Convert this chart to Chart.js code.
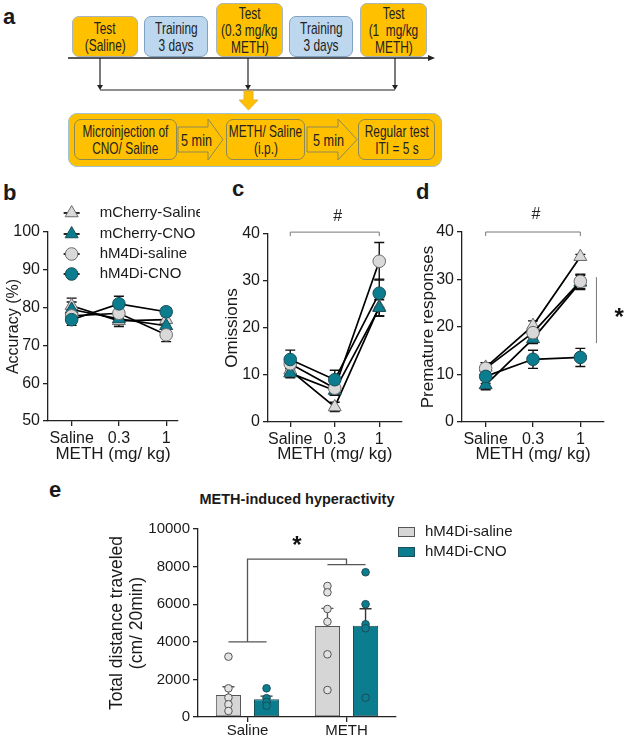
<!DOCTYPE html>
<html>
<head>
<meta charset="utf-8">
<script src="https://cdn.jsdelivr.net/npm/chart.js@4.4.1/dist/chart.umd.min.js"></script>
<style>
html, body { margin: 0; padding: 0; background: #fff; }
#page { position: relative; width: 627px; height: 740px; overflow: hidden; font-family: "Liberation Sans", Arial, sans-serif; color: #1a1a1a; }
canvas { position: absolute; }
.letter { position: absolute; font-weight: bold; font-size: 22px; line-height: 22px; }
.box { position: absolute; box-sizing: border-box; border-radius: 7px; display: flex; flex-direction: column; align-items: center; justify-content: center; text-align: center;
       font-size: 17px; line-height: 17px; color: #222; }
.box span { display: block; white-space: nowrap; transform: scaleX(0.7); }
.orange { background: #ffc000; border: 1px solid #a9b5b8; }
.blue { background: #bdd7ee; border: 1px solid #7ea3c4; }
.inner { background: #ffc000; border: 1px solid #8d8a55; }
.big { background: #ffc000; border: 1.5px solid #9fc3d3; border-radius: 9px; }
#scheme { position: absolute; left: 0; top: 0; }
#titleE { position: absolute; left: 187px; top: 491px; width: 220px; text-align: center; font-weight: bold; font-size: 14.5px; }
</style>
</head>
<body>
<div id="page">
  <!-- panel a: protocol scheme -->
  <div class="letter" style="left:3px;top:6px;">a</div>
  <div class="box orange" style="left:72px;top:16px;width:66px;height:41px;"><span>Test</span><span>(Saline)</span></div>
  <div class="box blue" style="left:144px;top:16px;width:64px;height:41px;"><span>Training</span><span>3 days</span></div>
  <div class="box orange" style="left:216px;top:3px;width:67px;height:54px;"><span>Test</span><span>(0.3 mg/kg</span><span>METH)</span></div>
  <div class="box blue" style="left:289px;top:16px;width:64px;height:41px;"><span>Training</span><span>3 days</span></div>
  <div class="box orange" style="left:360px;top:3px;width:67px;height:54px;"><span>Test</span><span>(1&nbsp; mg/kg</span><span>METH)</span></div>
  <div class="box big" style="left:68px;top:113px;width:374px;height:54px;"></div>
  <svg id="scheme" width="627" height="170">
    <line x1="68" y1="58" x2="429" y2="58" stroke="#222" stroke-width="1.5"/>
    <polygon points="428,55 435,58 428,61" fill="#222"/>
    <line x1="100" y1="58" x2="100" y2="86" stroke="#222" stroke-width="1.2"/>
    <line x1="248" y1="58" x2="248" y2="86" stroke="#222" stroke-width="1.2"/>
    <line x1="395" y1="58" x2="395" y2="86" stroke="#222" stroke-width="1.2"/>
    <polygon points="97,85 103,85 100,90" fill="#222"/>
    <polygon points="245,85 251,85 248,90" fill="#222"/>
    <polygon points="392,85 398,85 395,90" fill="#222"/>
    <line x1="100" y1="90" x2="395" y2="90" stroke="#222" stroke-width="1.2"/>
    <polygon points="244,91 253,91 253,100 258,100 248.5,110 239,100 244,100" fill="#ffc000" stroke="#e3b23c" stroke-width="1"/>
    <polygon points="178,127 208,127 208,119 223,139.5 208,160 208,152 178,152" fill="#ffc000" stroke="#8d8a55" stroke-width="1"/>
    <polygon points="307,127 338,127 338,119 357,139.5 338,160 338,152 307,152" fill="#ffc000" stroke="#8d8a55" stroke-width="1"/>
    <text x="181" y="146" textLength="31" lengthAdjust="spacingAndGlyphs" font-family="Liberation Sans, Arial, sans-serif" font-size="17" fill="#222">5 min</text>
    <text x="313" y="146" textLength="31" lengthAdjust="spacingAndGlyphs" font-family="Liberation Sans, Arial, sans-serif" font-size="17" fill="#222">5 min</text>
  </svg>
  <div class="box inner" style="left:74px;top:119px;width:103px;height:41px;"><span>Microinjection of</span><span>CNO/ Saline</span></div>
  <div class="box inner" style="left:226px;top:119px;width:79px;height:41px;"><span>METH/ Saline</span><span>(i.p.)</span></div>
  <div class="box inner" style="left:358px;top:119px;width:77px;height:41px;"><span>Regular test</span><span>ITI = 5 s</span></div>

  <!-- panels b-d -->
  <div class="letter" style="left:3px;top:182px;">b</div>
  <div class="letter" style="left:232px;top:178px;">c</div>
  <div class="letter" style="left:416px;top:181px;">d</div>
  <canvas id="chartB" width="200" height="300" style="left:0;top:170px;"></canvas>
  <canvas id="chartC" width="210" height="300" style="left:200px;top:170px;"></canvas>
  <canvas id="chartD" width="227" height="300" style="left:400px;top:170px;"></canvas>

  <!-- panel e -->
  <div class="letter" style="left:49px;top:479px;">e</div>
  <div id="titleE">METH-induced hyperactivity</div>
  <canvas id="chartE" width="627" height="270" style="left:0;top:470px;"></canvas>
</div>

<script>
// x categories and group names
const doseLabels = ['Saline', '0.3', '1'];
const groupLabels = ['mCherry-Saline', 'mCherry-CNO', 'hM4Di-saline', 'hM4Di-CNO'];
const doseTitle = 'METH (mg/ kg)';

// b: accuracy (%), mean and sem per group
const accMCherrySaline = [80.5, 76.5, 76.8];
const accMCherryCNO = [79.5, 77.0, 75.2];
const accHM4DiSaline = [77.8, 78.5, 72.8];
const accHM4DiCNO = [76.8, 81.0, 78.9];
const accMCherrySalineSem = [2.0, 1.5, 1.0];
const accMCherryCNOSem = [2.0, 1.5, 1.0];
const accHM4DiSalineSem = [1.5, 1.5, 1.8];
const accHM4DiCNOSem = [1.5, 2.0, 1.0];

// c: omissions
const omMCherrySaline = [11.0, 3.2, 24.5];
const omMCherryCNO = [10.4, 6.7, 24.3];
const omHM4DiSaline = [12.4, 7.2, 34.2];
const omHM4DiCNO = [13.3, 9.0, 27.4];
const omMCherrySalineSem = [1.0, 1.0, 2.0];
const omMCherryCNOSem = [1.0, 1.0, 1.7];
const omHM4DiSalineSem = [1.5, 1.5, 4.0];
const omHM4DiCNOSem = [2.0, 2.0, 3.0];

// d: premature responses
const prMCherrySaline = [11.5, 20.3, 34.8];
const prMCherryCNO = [7.8, 17.5, 29.4];
const prHM4DiSaline = [11.3, 18.8, 29.6];
const prHM4DiCNO = [9.6, 13.2, 13.6];
const prMCherrySalineSem = [1.0, 1.0, 0.5];
const prMCherryCNOSem = [1.0, 1.0, 1.5];
const prHM4DiSalineSem = [1.2, 1.0, 1.5];
const prHM4DiCNOSem = [1.5, 1.9, 1.9];

// annotation levels (data units)
const omBracket = 40.4, omHash = 43.8;
const prBracket = 40.0, prHash = 43.6;
const prStarSpan = [30.5, 16.6];

// e: total distance traveled
const distGroups = ['Saline', 'METH'];
const distSeries = ['hM4Di-saline', 'hM4Di-CNO'];
const distSalineMean = [1170, 4840];
const distSalineSem = [440, 940];
const distCNOMean = [940, 4860];
const distCNOSem = [170, 900];
const distSalineDotsSal = [3210, 1525, 1030, 675, 320];
const distSalineDotsMeth = [6970, 6630, 5745, 5070, 3335, 1435];
const distCNODotsSal = [1525, 1000, 800, 600];
const distCNODotsMeth = [7700, 6000, 4930, 4720, 1030];
const distBrackets = [4000, 8100, 8400];

// styles
const GRAY = '#d9d9d9', GRAY_EDGE = '#6a6a6a';
const TEAL = '#0b7d8f', TEAL_EDGE = '#1b4d57';
const TXT = '#1a1a1a', AXIS = '#222';
const groupShapes = ['triangle', 'triangle', 'circle', 'circle'];
const groupFill = [GRAY, TEAL, GRAY, TEAL];
const groupEdge = [GRAY_EDGE, TEAL_EDGE, GRAY_EDGE, TEAL_EDGE];
const drawOrder = [4, 3, 2, 1];
const FONT = 'Liberation Sans, Arial, sans-serif';
const tickFont = { family: FONT, size: 16 };
const titleFont = { family: FONT, size: 17 };

// error bars from the dataset's own sem array
const errorBars = {
  id: 'errorBars',
  beforeDatasetsDraw(chart) {
    const ctx = chart.ctx, ys = chart.scales.y;
    chart.data.datasets.forEach((ds, i) => {
      if (!ds.sem) return;
      chart.getDatasetMeta(i).data.forEach((el, j) => {
        const raw = ds.data[j];
        const m = typeof raw === 'object' ? raw.y : raw;
        const top = ys.getPixelForValue(m + ds.sem[j]);
        const bot = ys.getPixelForValue(ds.upOnly ? m : m - ds.sem[j]);
        const w = ds.capWidth || 5;
        ctx.save();
        ctx.strokeStyle = ds.errColor || '#111';
        ctx.lineWidth = 1.4;
        ctx.beginPath();
        ctx.moveTo(el.x, top); ctx.lineTo(el.x, bot);
        ctx.moveTo(el.x - w, top); ctx.lineTo(el.x + w, top);
        if (!ds.upOnly) { ctx.moveTo(el.x - w, bot); ctx.lineTo(el.x + w, bot); }
        ctx.stroke();
        ctx.restore();
      });
    });
  }
};

function hashBracket(level, hashAt) {
  return {
    id: 'hashBracket',
    afterDraw(chart) {
      const ctx = chart.ctx, xs = chart.scales.x, ys = chart.scales.y;
      const x0 = xs.getPixelForValue(0), x1 = xs.getPixelForValue(2);
      const y = ys.getPixelForValue(level);
      ctx.save();
      ctx.strokeStyle = '#777';
      ctx.lineWidth = 1;
      ctx.beginPath();
      ctx.moveTo(x0, y + 4); ctx.lineTo(x0, y); ctx.lineTo(x1, y); ctx.lineTo(x1, y + 4);
      ctx.stroke();
      ctx.fillStyle = '#222';
      ctx.font = '16px ' + FONT;
      ctx.textAlign = 'center';
      ctx.textBaseline = 'middle';
      ctx.fillText('#', (x0 + x1) / 2 + 3, ys.getPixelForValue(hashAt));
      ctx.restore();
    }
  };
}

function makeLineChart(id, means, sems, yMin, yMax, yTitle, box, extra) {
  const datasets = means.map((vals, i) => ({
    label: groupLabels[i],
    data: vals.map((v, j) => ({ x: j, y: v })),
    sem: sems[i],
    borderColor: '#000',
    borderWidth: 1.7,
    pointStyle: groupShapes[i],
    pointRadius: groupShapes[i] === 'triangle' ? 7.5 : 6.3,
    pointBackgroundColor: groupFill[i],
    pointBorderColor: groupEdge[i],
    pointBorderWidth: 1,
    order: drawOrder[i],
    tension: 0,
    fill: false
  }));
  return new Chart(document.getElementById(id), {
    type: 'line',
    data: { datasets },
    options: {
      responsive: false,
      animation: false,
      layout: { padding: { left: box.left, top: box.top, right: box.right, bottom: box.bottom } },
      plugins: { legend: { display: false }, tooltip: { enabled: false } },
      scales: {
        x: {
          type: 'linear', min: -0.5, max: box.xMax,
          afterBuildTicks: s => { s.ticks = doseLabels.map((_, i) => ({ value: i })); },
          afterFit: s => { s.height = box.xH; },
          ticks: { callback: v => doseLabels[v], font: tickFont, color: TXT, autoSkip: false, maxRotation: 0, padding: 3 },
          grid: { drawOnChartArea: false, drawTicks: true, tickLength: 5, color: AXIS, lineWidth: 1.3 },
          border: { display: true, color: AXIS, width: 1.3 },
          title: { display: true, text: doseTitle, font: titleFont, color: TXT, padding: 0 }
        },
        y: {
          min: yMin, max: yMax,
          afterFit: s => { s.width = box.yW; },
          ticks: { stepSize: 10, callback: v => String(v), font: tickFont, color: TXT, padding: 3 },
          grid: { drawOnChartArea: false, drawTicks: true, tickLength: 5, color: AXIS, lineWidth: 1.3 },
          border: { display: true, color: AXIS, width: 1.3 },
          title: { display: true, text: yTitle, font: { family: FONT, size: box.yTitleSize }, color: TXT, padding: { top: 4, bottom: 0 } }
        }
      }
    },
    plugins: [errorBars].concat(extra || [])
  });
}

// legend for panel b, drawn with the datasets' own point styles
const legendB = {
  id: 'legendB',
  afterDraw(chart) {
    const ctx = chart.ctx;
    const mx = chart.scales.x.getPixelForValue(0);
    const rows = [-19, 2, 22, 42];
    chart.data.datasets.forEach((ds, i) => {
      const y = chart.chartArea.top + rows[i];
      ctx.save();
      ctx.strokeStyle = '#000';
      ctx.lineWidth = 1.7;
      ctx.beginPath(); ctx.moveTo(mx - 8, y); ctx.lineTo(mx + 8, y); ctx.stroke();
      ctx.fillStyle = ds.pointBackgroundColor;
      ctx.strokeStyle = ds.pointBorderColor;
      ctx.lineWidth = 1;
      Chart.helpers.drawPoint(ctx, { pointStyle: ds.pointStyle, radius: ds.pointRadius, rotation: 0, borderWidth: 1 }, mx, y);
      ctx.fillStyle = TXT;
      ctx.font = '15px ' + FONT;
      ctx.textAlign = 'left';
      ctx.textBaseline = 'middle';
      ctx.fillText(ds.label, mx + 28, y);
      ctx.restore();
    });
  }
};

makeLineChart('chartB',
  [accMCherrySaline, accMCherryCNO, accHM4DiSaline, accHM4DiCNO],
  [accMCherrySalineSem, accMCherryCNOSem, accHM4DiSalineSem, accHM4DiCNOSem],
  50, 100, 'Accuracy (%)',
  { left: 0, yW: 48, top: 62, right: 22, bottom: 5, xH: 44, xMax: 2.25, yTitleSize: 16 },
  [legendB]);

makeLineChart('chartC',
  [omMCherrySaline, omMCherryCNO, omHM4DiSaline, omHM4DiCNO],
  [omMCherrySalineSem, omMCherryCNOSem, omHM4DiSalineSem, omHM4DiCNOSem],
  0, 40, 'Omissions',
  { left: 18, yW: 50, top: 64, right: 0, bottom: 5, xH: 43, xMax: 2.5, yTitleSize: 17 },
  [hashBracket(omBracket, omHash)]);

const starD = {
  id: 'starD',
  afterDraw(chart) {
    const ctx = chart.ctx, xs = chart.scales.x, ys = chart.scales.y;
    const x = xs.getPixelForValue(2.34);
    ctx.save();
    ctx.strokeStyle = '#777';
    ctx.lineWidth = 1;
    ctx.beginPath();
    ctx.moveTo(x, ys.getPixelForValue(prStarSpan[0]));
    ctx.lineTo(x, ys.getPixelForValue(prStarSpan[1]));
    ctx.stroke();
    ctx.fillStyle = '#111';
    ctx.font = 'bold 24px ' + FONT;
    ctx.textAlign = 'center';
    ctx.textBaseline = 'middle';
    ctx.fillText('*', xs.getPixelForValue(2.82), ys.getPixelForValue(21.8));
    ctx.restore();
  }
};

makeLineChart('chartD',
  [prMCherrySaline, prMCherryCNO, prHM4DiSaline, prHM4DiCNO],
  [prMCherrySalineSem, prMCherryCNOSem, prHM4DiSalineSem, prHM4DiCNOSem],
  0, 40, 'Premature responses',
  { left: 14, yW: 48, top: 62, right: 23, bottom: 5, xH: 43, xMax: 2.5, yTitleSize: 17 },
  [hashBracket(prBracket, prHash), starD]);

// panel e: individual animals drawn over the bars
const dotsE = {
  id: 'dotsE',
  afterDatasetsDraw(chart) {
    const ctx = chart.ctx, ys = chart.scales.y;
    chart.data.datasets.forEach((ds, i) => {
      chart.getDatasetMeta(i).data.forEach((el, j) => {
        ds.dots[j].forEach(v => {
          ctx.save();
          ctx.fillStyle = ds.dotFill;
          ctx.strokeStyle = ds.dotEdge;
          ctx.lineWidth = 1;
          ctx.beginPath();
          ctx.arc(el.x, ys.getPixelForValue(v), 3.8, 0, Math.PI * 2);
          ctx.fill(); ctx.stroke();
          ctx.restore();
        });
      });
    });
  },
  afterDraw(chart) {
    const ctx = chart.ctx, xs = chart.scales.x, ys = chart.scales.y;
    const b0 = chart.getDatasetMeta(0).data, b1 = chart.getDatasetMeta(1).data;
    const gS = xs.getPixelForValue(0), gM = xs.getPixelForValue(1);
    const [lowS, lowM, top] = distBrackets.map(v => ys.getPixelForValue(v));
    ctx.save();
    ctx.strokeStyle = '#555';
    ctx.lineWidth = 1.3;
    ctx.beginPath();
    ctx.moveTo(b0[0].x, lowS); ctx.lineTo(b1[0].x, lowS);
    ctx.moveTo(gS, lowS); ctx.lineTo(gS, top); ctx.lineTo(gM, top); ctx.lineTo(gM, lowM);
    ctx.moveTo(b0[1].x, lowM); ctx.lineTo(b1[1].x, lowM);
    ctx.stroke();
    ctx.fillStyle = '#111';
    ctx.font = 'bold 24px ' + FONT;
    ctx.textAlign = 'center';
    ctx.textBaseline = 'middle';
    ctx.fillText('*', (gS + gM) / 2, ys.getPixelForValue(9100));
    // legend
    const lx = chart.chartArea.right + 2;
    chart.data.datasets.forEach((ds, i) => {
      const y = chart.chartArea.top + 3 + i * 20;
      ctx.fillStyle = ds.backgroundColor;
      ctx.strokeStyle = ds.borderColor;
      ctx.lineWidth = 1;
      ctx.fillRect(lx, y - 5, 17, 10);
      ctx.strokeRect(lx + 0.5, y - 4.5, 16, 9);
      ctx.fillStyle = TXT;
      ctx.font = '15px ' + FONT;
      ctx.textAlign = 'left';
      ctx.fillText(ds.label, lx + 27, y);
    });
    ctx.restore();
  }
};

new Chart(document.getElementById('chartE'), {
  type: 'bar',
  data: {
    labels: distGroups,
    datasets: [
      { label: distSeries[0], data: distSalineMean, sem: distSalineSem, upOnly: true, capWidth: 6,
        dots: [distSalineDotsSal, distSalineDotsMeth], dotFill: '#e2e2e2', dotEdge: '#555',
        backgroundColor: '#d6d6d6', borderColor: '#555', borderWidth: 1, borderSkipped: false,
        categoryPercentage: 0.77, barPercentage: 0.66, errColor: '#555' },
      { label: distSeries[1], data: distCNOMean, sem: distCNOSem, upOnly: true, capWidth: 6,
        dots: [distCNODotsSal, distCNODotsMeth], dotFill: TEAL, dotEdge: TEAL_EDGE,
        backgroundColor: TEAL, borderColor: TEAL_EDGE, borderWidth: 1, borderSkipped: false,
        categoryPercentage: 0.77, barPercentage: 0.66, errColor: '#333' }
    ]
  },
  options: {
    responsive: false,
    animation: false,
    layout: { padding: { left: 104, top: 59, right: 231, bottom: 0 } },
    plugins: { legend: { display: false }, tooltip: { enabled: false } },
    scales: {
      x: {
        afterFit: s => { s.height = 23; },
        ticks: { font: { family: FONT, size: 15 }, color: TXT, padding: 0, maxRotation: 0 },
        grid: { offset: false, drawOnChartArea: false, drawTicks: true, tickLength: 5, color: AXIS, lineWidth: 1.3 },
        border: { display: true, color: AXIS, width: 1.3 }
      },
      y: {
        min: 0, max: 10000,
        afterFit: s => { s.width = 94; },
        ticks: { stepSize: 2000, callback: v => String(v), font: { family: FONT, size: 15 }, color: TXT, padding: 3 },
        grid: { drawOnChartArea: false, drawTicks: true, tickLength: 5, color: AXIS, lineWidth: 1.3 },
        border: { display: true, color: AXIS, width: 1.3 },
        title: { display: true, text: ['Total distance traveled', '(cm/ 20min)'], font: { family: FONT, size: 17.5, lineHeight: 1.1 }, color: TXT, padding: { top: 4, bottom: 0 } }
      }
    }
  },
  plugins: [errorBars, dotsE]
});
</script>
</body>
</html>
